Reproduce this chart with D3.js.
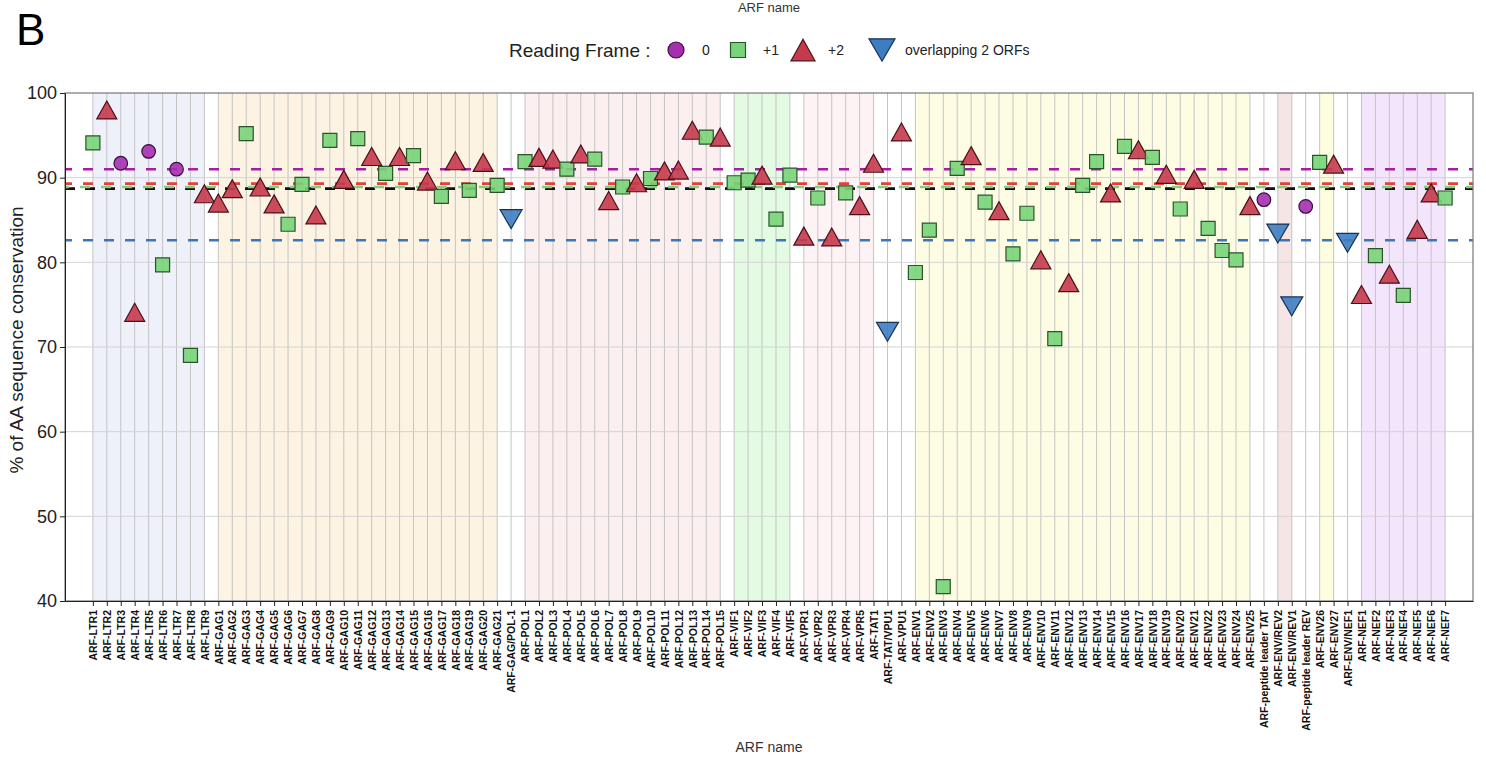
<!DOCTYPE html>
<html><head><meta charset="utf-8">
<script src="https://cdn.jsdelivr.net/npm/d3@7"></script>
<style>body{margin:0;background:#fff;} svg{display:block;font-family:"Liberation Sans",Arial,sans-serif;}</style>
</head><body><svg id="chart" width="1486" height="764"></svg>
<script>
// ---------------- DATA ----------------
const categories = [
 "ARF-LTR1","ARF-LTR2","ARF-LTR3","ARF-LTR4","ARF-LTR5","ARF-LTR6","ARF-LTR7","ARF-LTR8","ARF-LTR9",
 "ARF-GAG1","ARF-GAG2","ARF-GAG3","ARF-GAG4","ARF-GAG5","ARF-GAG6","ARF-GAG7","ARF-GAG8","ARF-GAG9","ARF-GAG10",
 "ARF-GAG11","ARF-GAG12","ARF-GAG13","ARF-GAG14","ARF-GAG15","ARF-GAG16","ARF-GAG17","ARF-GAG18","ARF-GAG19","ARF-GAG20","ARF-GAG21",
 "ARF-GAG/POL-1",
 "ARF-POL1","ARF-POL2","ARF-POL3","ARF-POL4","ARF-POL5","ARF-POL6","ARF-POL7","ARF-POL8","ARF-POL9","ARF-POL10",
 "ARF-POL11","ARF-POL12","ARF-POL13","ARF-POL14","ARF-POL15",
 "ARF-VIF1","ARF-VIF2","ARF-VIF3","ARF-VIF4","ARF-VIF5",
 "ARF-VPR1","ARF-VPR2","ARF-VPR3","ARF-VPR4","ARF-VPR5",
 "ARF-TAT1","ARF-TAT/VPU1","ARF-VPU1",
 "ARF-ENV1","ARF-ENV2","ARF-ENV3","ARF-ENV4","ARF-ENV5","ARF-ENV6","ARF-ENV7","ARF-ENV8","ARF-ENV9","ARF-ENV10",
 "ARF-ENV11","ARF-ENV12","ARF-ENV13","ARF-ENV14","ARF-ENV15","ARF-ENV16","ARF-ENV17","ARF-ENV18","ARF-ENV19","ARF-ENV20",
 "ARF-ENV21","ARF-ENV22","ARF-ENV23","ARF-ENV24","ARF-ENV25",
 "ARF-peptide leader TAT","ARF-ENV/REV2","ARF-ENV/REV1","ARF-peptide leader REV",
 "ARF-ENV26","ARF-ENV27","ARF-ENV/NEF1",
 "ARF-NEF1","ARF-NEF2","ARF-NEF3","ARF-NEF4","ARF-NEF5","ARF-NEF6","ARF-NEF7"
];
// reading frame per category: "0", "+1", "+2", "ov" (overlapping 2 ORFs)
const frames = [
 "+1","+2","0","+2","0","+1","0","+1","+2",
 "+2","+2","+1","+2","+2","+1","+1","+2","+1","+2",
 "+1","+2","+1","+2","+1","+2","+1","+2","+1","+2","+1",
 "ov",
 "+1","+2","+2","+1","+2","+1","+2","+1","+2","+1",
 "+2","+2","+2","+1","+2",
 "+1","+1","+2","+1","+1",
 "+2","+1","+2","+1","+2",
 "+2","ov","+2",
 "+1","+1","+1","+1","+2","+1","+2","+1","+1","+2",
 "+1","+2","+1","+1","+2","+1","+2","+1","+2","+1",
 "+2","+1","+1","+1","+2",
 "0","ov","ov","0",
 "+1","+2","ov",
 "+2","+1","+2","+1","+2","+2","+1"
];
const conservation = [
 94.1,98.0,91.7,74.1,93.1,79.7,91.0,69.0,88.1,
 87.0,88.7,95.2,88.9,86.9,84.5,89.2,85.6,94.4,89.8,
 94.6,92.5,90.5,92.5,92.6,89.6,87.8,92.0,88.5,91.8,89.1,
 85.1,
 91.9,92.4,92.2,91.0,92.8,92.2,87.3,88.9,89.4,89.9,
 90.8,90.9,95.6,94.8,94.8,
 89.4,89.7,90.3,85.1,90.3,
 83.1,87.6,83.0,88.2,86.7,
 91.7,71.8,95.4,
 78.8,83.8,41.7,91.1,92.6,87.1,86.1,81.0,85.8,80.3,
 71.0,77.6,89.1,91.9,88.2,93.7,93.3,92.4,90.4,86.3,
 89.8,84.0,81.4,80.3,86.7,
 87.4,83.4,74.8,86.6,
 91.8,91.6,82.3,
 76.2,80.8,78.6,76.1,83.9,88.2,87.6
];
// gene-region shading (first and last category of each region)
const regionGenes  = ["LTR","GAG","POL","VIF","VPR","ENV","ENV/REV","ENV2","NEF"];
const regionStart  = ["ARF-LTR1","ARF-GAG1","ARF-POL1","ARF-VIF1","ARF-VPR1","ARF-ENV1","ARF-ENV/REV2","ARF-ENV26","ARF-NEF1"];
const regionEnd    = ["ARF-LTR9","ARF-GAG21","ARF-POL15","ARF-VIF5","ARF-TAT1","ARF-ENV25","ARF-ENV/REV1","ARF-ENV27","ARF-NEF7"];
// mean reference lines
const refFrames = ["all","+1","+2","0","ov"];
const refValues = [88.7, 88.9, 89.3, 91.0, 82.6];
const yTicks = [40,50,60,70,80,90,100];
const legendFrames = ["0","+1","+2","ov"];
const legendLabels = ["0","+1","+2","overlapping 2 ORFs"];

// ---------------- STYLES ----------------
const regionFill = {"LTR":"#eef0fa","GAG":"#fdf3e3","POL":"#fcefef","VIF":"#e3fae3","VPR":"#fdf3f5",
  "ENV":"#fefde4","ENV/REV":"#f5e5e5","ENV2":"#fefde0","NEF":"#f3e5fb"};
const frameFill   = {"0":"#a62fb0","+1":"#78d478","+2":"#c63a4c","ov":"#3d7dc2"};
const frameStroke = {"0":"#3b0c40","+1":"#2a542a","+2":"#4a1018","ov":"#1a3152"};
const refColor    = {"all":"#111111","+1":"#7fd07f","+2":"#e0413a","0":"#a51ea5","ov":"#3f74b5"};

const triUp = {draw(ctx,size){const w=Math.sqrt(size)/2, h=w*0.9; ctx.moveTo(0,-h); ctx.lineTo(w,h); ctx.lineTo(-w,h); ctx.closePath();}};
const triDown = {draw(ctx,size){const w=Math.sqrt(size)/2, h=w*0.86; ctx.moveTo(0,h); ctx.lineTo(w,-h); ctx.lineTo(-w,-h); ctx.closePath();}};
const symType = {"0":d3.symbolCircle,"+1":d3.symbolSquare,"+2":triUp,"ov":triDown};
const symSize = {"0":Math.PI*6.8*6.8,"+1":14*14,"+2":20*20,"ov":22*22};

// ---------------- LAYOUT ----------------
const L=65, R=1473, T=93, B=601;
const svg = d3.select("#chart");
const x = d3.scalePoint().domain(categories).range([L,R]).padding(2);
const y = d3.scaleLinear().domain([40,100]).range([B,T]);

// region shading
svg.append("g").selectAll("rect").data(regionGenes).join("rect")
  .attr("x",(d,i)=>x(regionStart[i]))
  .attr("width",(d,i)=>x(regionEnd[i])-x(regionStart[i]))
  .attr("y",T).attr("height",B-T)
  .attr("fill",d=>regionFill[d]);

// vertical grid
svg.append("g").selectAll("line").data(categories).join("line")
  .attr("x1",d=>x(d)).attr("x2",d=>x(d)).attr("y1",T).attr("y2",B)
  .attr("stroke","#c4c4c4").attr("stroke-width",1);
// horizontal grid
svg.append("g").selectAll("line").data(yTicks.slice(1,-1)).join("line")
  .attr("x1",L).attr("x2",R).attr("y1",d=>y(d)).attr("y2",d=>y(d))
  .attr("stroke","#d4d4d4").attr("stroke-width",1);

// reference dashed lines
svg.append("g").selectAll("line").data(refFrames).join("line")
  .attr("x1",L).attr("x2",R)
  .attr("y1",(d,i)=>y(refValues[i])).attr("y2",(d,i)=>y(refValues[i]))
  .attr("stroke",d=>refColor[d]).attr("stroke-width",2.6)
  .attr("stroke-dasharray",(d)=> d==="all" ? "10,10" : "10,11")
  .attr("stroke-dashoffset",(d)=> d==="+1" ? 6 : (d==="all"?0:3));

// markers
const sym = d3.symbol();
svg.append("g").selectAll("path").data(categories).join("path")
  .attr("transform",(d,i)=>`translate(${x(d)},${y(conservation[i])})`)
  .attr("d",(d,i)=>sym.type(symType[frames[i]]).size(symSize[frames[i]])())
  .attr("fill",(d,i)=>frameFill[frames[i]]).attr("fill-opacity",0.9)
  .attr("stroke",(d,i)=>frameStroke[frames[i]]).attr("stroke-width",1.2);

// frame
svg.append("rect").attr("x",L).attr("y",T).attr("width",R-L).attr("height",B-T)
  .attr("fill","none").attr("stroke","#777").attr("stroke-width",1.2);

// axes
const xAxis = svg.append("g").attr("transform",`translate(0,${B})`)
  .call(d3.axisBottom(x).tickSize(5).tickSizeOuter(0));
xAxis.select(".domain").attr("stroke","#222");
xAxis.selectAll(".tick line").attr("stroke","#222");
xAxis.selectAll(".tick text")
  .attr("transform","rotate(-90)").attr("text-anchor","end")
  .attr("x",-9).attr("y",0).attr("dy","0.35em")
  .attr("font-family","Liberation Sans, Arial, sans-serif")
  .attr("font-size",10.5).attr("font-weight","bold").attr("fill","#111");

const yAxis = svg.append("g").attr("transform",`translate(${L},0)`)
  .call(d3.axisLeft(y).tickValues(yTicks).tickSize(5).tickSizeOuter(0));
yAxis.select(".domain").attr("stroke","#222");
yAxis.selectAll(".tick line").attr("stroke","#222");
yAxis.selectAll(".tick text").attr("x",-8)
  .attr("font-family","Liberation Sans, Arial, sans-serif")
  .attr("font-size",18).attr("fill","#222");

// titles
svg.append("text").attr("transform",`translate(16,${(T+B)/2-7}) rotate(-90)`)
  .attr("text-anchor","middle").attr("dy","0.35em")
  .attr("font-size",19).attr("fill","#222").text("% of AA sequence conservation");
svg.append("text").attr("x",769).attr("y",752).attr("text-anchor","middle")
  .attr("font-size",14).attr("fill","#333").text("ARF name");
svg.append("text").attr("x",769).attr("y",12).attr("text-anchor","middle")
  .attr("font-size",13).attr("fill","#333").text("ARF name");
svg.append("text").attr("x",16).attr("y",45)
  .attr("font-size",44).attr("fill","#000").text("B");

// legend
const lg = svg.append("g").attr("transform","translate(0,50)");
lg.append("text").attr("x",509).attr("y",0).attr("dy","0.35em")
  .attr("font-size",19).attr("fill","#222").text("Reading Frame :");
const legMarkX = [676,738,803,882];
const legTextX = [702,763,828,905];
lg.selectAll("path").data(legendFrames).join("path")
  .attr("transform",(d,i)=>`translate(${legMarkX[i]},0)`)
  .attr("d",d=>sym.type(symType[d]).size(d==="0"?Math.PI*8*8:(d==="+1"?15*15:(d==="+2"?24*24:26*26)))())
  .attr("fill",d=>frameFill[d]).attr("stroke",d=>frameStroke[d]).attr("stroke-width",1.2);
lg.selectAll("text.lab").data(legendLabels).join("text").attr("class","lab")
  .attr("x",(d,i)=>legTextX[i]).attr("y",0).attr("dy","0.35em")
  .attr("font-size",14).attr("fill","#222").text(d=>d);
</script></body></html>
